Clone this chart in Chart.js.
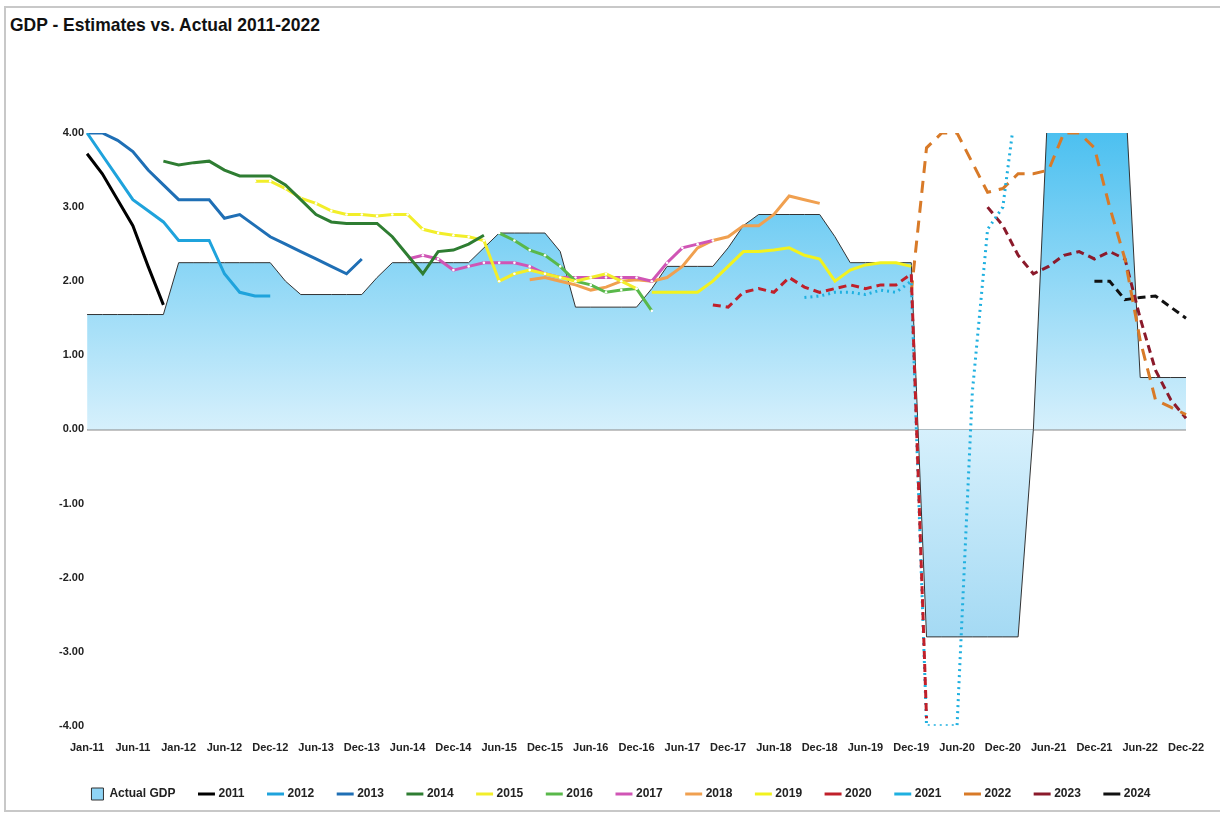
<!DOCTYPE html>
<html>
<head>
<meta charset="utf-8">
<script src="https://cdn.jsdelivr.net/npm/chart.js@4.4.1/dist/chart.umd.min.js"></script>
<style>
  html, body { margin: 0; padding: 0; background: #fff; }
  .frame { position: absolute; left: 4px; top: 6px; width: 1216px; height: 806px; border: 2px solid #c8c8c8; border-right: none; box-sizing: border-box; }
  h1 { position: absolute; left: 10px; top: 14px; margin: 0; font: bold 19px "Liberation Sans", Arial, sans-serif; color: #111; transform: scaleX(0.92); transform-origin: left; }
  #wrap { position: absolute; left: 0; top: 100px; width: 1226px; height: 710px; }
</style>
</head>
<body>
<div class="frame"></div>
<h1>GDP - Estimates vs. Actual 2011-2022</h1>
<div id="wrap"><canvas id="gdp"></canvas></div>
<script>
// 73 bi-monthly-ish points, every third one labelled
const tickLabels = ['Jan-11','Jun-11','Jan-12','Jun-12','Dec-12','Jun-13','Dec-13','Jun-14','Dec-14','Jun-15','Dec-15','Jun-16','Dec-16','Jun-17','Dec-17','Jun-18','Dec-18','Jun-19','Dec-19','Jun-20','Dec-20','Jun-21','Dec-21','Jun-22','Dec-22'];
const categories = [];
for (let i = 0; i < 73; i++) categories.push(i % 3 === 0 ? tickLabels[i / 3] : '');

// place values starting at a category index
function at(start, vals) {
  const a = new Array(73).fill(null);
  vals.forEach((v, i) => { a[start + i] = v; });
  return a;
}

const actualGdp = [1.55,1.55,1.55,1.55,1.55,1.55,2.25,2.25,2.25,2.25,2.25,2.25,2.25,2.0,1.82,1.82,1.82,1.82,1.82,2.05,2.25,2.25,2.25,2.25,2.25,2.25,2.45,2.65,2.65,2.65,2.65,2.4,1.65,1.65,1.65,1.65,1.65,1.9,2.2,2.2,2.2,2.2,2.45,2.75,2.9,2.9,2.9,2.9,2.9,2.6,2.25,2.25,2.25,2.25,2.25,-2.8,-2.8,-2.8,-2.8,-2.8,-2.8,-2.8,0,4.6,4.6,4.6,4.6,4.6,4.6,0.7,0.7,0.7,0.7];
const e2011 = at(0, [3.72,3.45,3.1,2.75,2.2,1.68]);
const e2012 = at(0, [4.0,3.7,3.4,3.1,2.95,2.8,2.55,2.55,2.55,2.1,1.85,1.8,1.8]);
const e2013 = at(0, [4.0,4.0,3.9,3.75,3.5,3.3,3.1,3.1,3.1,2.85,2.9,2.75,2.6,2.5,2.4,2.3,2.2,2.1,2.3]);
const e2014 = at(5, [3.62,3.57,3.6,3.62,3.5,3.42,3.42,3.42,3.3,3.1,2.9,2.8,2.78,2.78,2.78,2.6,2.35,2.1,2.4,2.42,2.5,2.62]);
const e2015 = at(11, [3.35,3.35,3.25,3.12,3.05,2.95,2.9,2.9,2.88,2.9,2.9,2.7,2.65,2.62,2.6,2.55,2.0,2.1,2.15,2.1,2.05,2.0,2.05,2.1,2.0,1.9]);
const e2016 = at(27, [2.65,2.55,2.42,2.35,2.2,2.0,1.95,1.85,1.88,1.9,1.6]);
const e2017 = at(21, [2.3,2.35,2.3,2.15,2.2,2.25,2.25,2.25,2.2,2.1,2.05,2.05,2.05,2.05,2.05,2.05,2.0,2.25,2.45,2.5,2.55]);
const e2018 = at(29, [2.02,2.05,2.0,1.95,1.88,1.92,2.0,2.02,2.0,2.05,2.2,2.45,2.55,2.6,2.75,2.75,2.9,3.15,3.1,3.05]);
const e2019 = at(37, [1.85,1.85,1.85,1.85,2.0,2.2,2.4,2.4,2.42,2.45,2.35,2.3,2.0,2.15,2.22,2.25,2.25,2.2]);
const e2020 = at(41, [1.68,1.65,1.85,1.9,1.85,2.05,1.92,1.85,1.9,1.95,1.9,1.95,1.95,2.1,-3.9]);
const e2021 = at(47, [1.78,1.8,1.85,1.85,1.82,1.88,1.85,2.0,-4.0,-4.0,-4.0,0.5,2.7,3.0,4.6]);
const e2022 = at(54, [1.85,3.8,4.0,4.0,3.6,3.2,3.25,3.45,3.45,3.5,4.0,4.0,3.8,3.0,2.3,1.2,0.4,0.3,0.2]);
const e2023 = at(59, [3.0,2.75,2.35,2.1,2.2,2.35,2.4,2.3,2.4,2.3,1.5,0.8,0.4,0.15]);
const e2024 = at(66, [2.0,2.0,1.75,1.78,1.8,1.65,1.5]);

function line(label, data, color, opts) {
  return Object.assign({ type: 'line', label, data, borderColor: color, backgroundColor: color, borderWidth: 3, pointRadius: 0, tension: 0, fill: false }, opts || {});
}
const dots = { pointRadius: 1.3, pointBackgroundColor: '#fff', pointBorderWidth: 0 };

new Chart(document.getElementById('gdp'), {
  type: 'line',
  data: {
    labels: categories,
    datasets: [
      { label: 'Actual GDP', data: actualGdp, borderColor: '#333', borderWidth: 1, pointRadius: 0, fill: 'origin', order: 20,
        backgroundColor: (c) => {
          const a = c.chart.chartArea;
          if (!a) return '#8fd4f5';
          const g = c.chart.ctx.createLinearGradient(0, a.top, 0, a.bottom);
          g.addColorStop(0, '#4cc0f0'); g.addColorStop(0.5, '#d6f0fc'); g.addColorStop(1, '#8fd0f0');
          return g;
        } },
      line('2011', e2011, '#000'),
      line('2012', e2012, '#1fa3dc'),
      line('2013', e2013, '#1f6fb5'),
      line('2014', e2014, '#2e7d32'),
      line('2015', e2015, '#f2ee2a', dots),
      line('2016', e2016, '#59b84a', dots),
      line('2017', e2017, '#d055b5', dots),
      line('2018', e2018, '#f0a050'),
      line('2019', e2019, '#f2f21e'),
      line('2020', e2020, '#c0202a', { borderDash: [8, 5] }),
      line('2021', e2021, '#1fb0e0', { borderDash: [2, 4] }),
      line('2022', e2022, '#d87a28', { borderDash: [12, 8] }),
      line('2023', e2023, '#8b1a2b', { borderDash: [8, 5] }),
      line('2024', e2024, '#111', { borderDash: [8, 5] })
    ]
  },
  options: {
    responsive: true, maintainAspectRatio: false, animation: false,
    layout: { padding: { left: 56, right: 40, top: 33, bottom: 0 } },
    plugins: {
      tooltip: { enabled: false },
      legend: {
        position: 'bottom',
        labels: {
          font: { family: 'Liberation Sans', size: 12, weight: 'bold' }, color: '#222',
          usePointStyle: true, padding: 25,
          generateLabels: (chart) => Chart.defaults.plugins.legend.labels.generateLabels(chart)
            .sort((a, b) => a.datasetIndex - b.datasetIndex)
            .map((l) => {
              const first = l.datasetIndex === 0;
              l.pointStyle = first ? 'rect' : 'line';
              l.lineWidth = first ? 1 : 3;
              if (first) { l.fillStyle = '#8fd4f5'; l.strokeStyle = '#333'; }
              return l;
            })
        }
      }
    },
    scales: {
      x: {
        grid: { display: false }, border: { display: false },
        ticks: { autoSkip: false, maxRotation: 0, padding: 8, font: { family: 'Liberation Sans', size: 11, weight: 'bold' }, color: '#222' }
      },
      y: {
        min: -4, max: 4,
        ticks: { stepSize: 1, callback: (v) => v.toFixed(2), font: { family: 'Liberation Sans', size: 11, weight: 'bold' }, color: '#222' },
        grid: { color: (c) => c.tick.value === 0 ? '#888' : 'transparent', lineWidth: 1.5, drawTicks: false },
        border: { display: false }
      }
    }
  }
});
</script>
</body>
</html>
